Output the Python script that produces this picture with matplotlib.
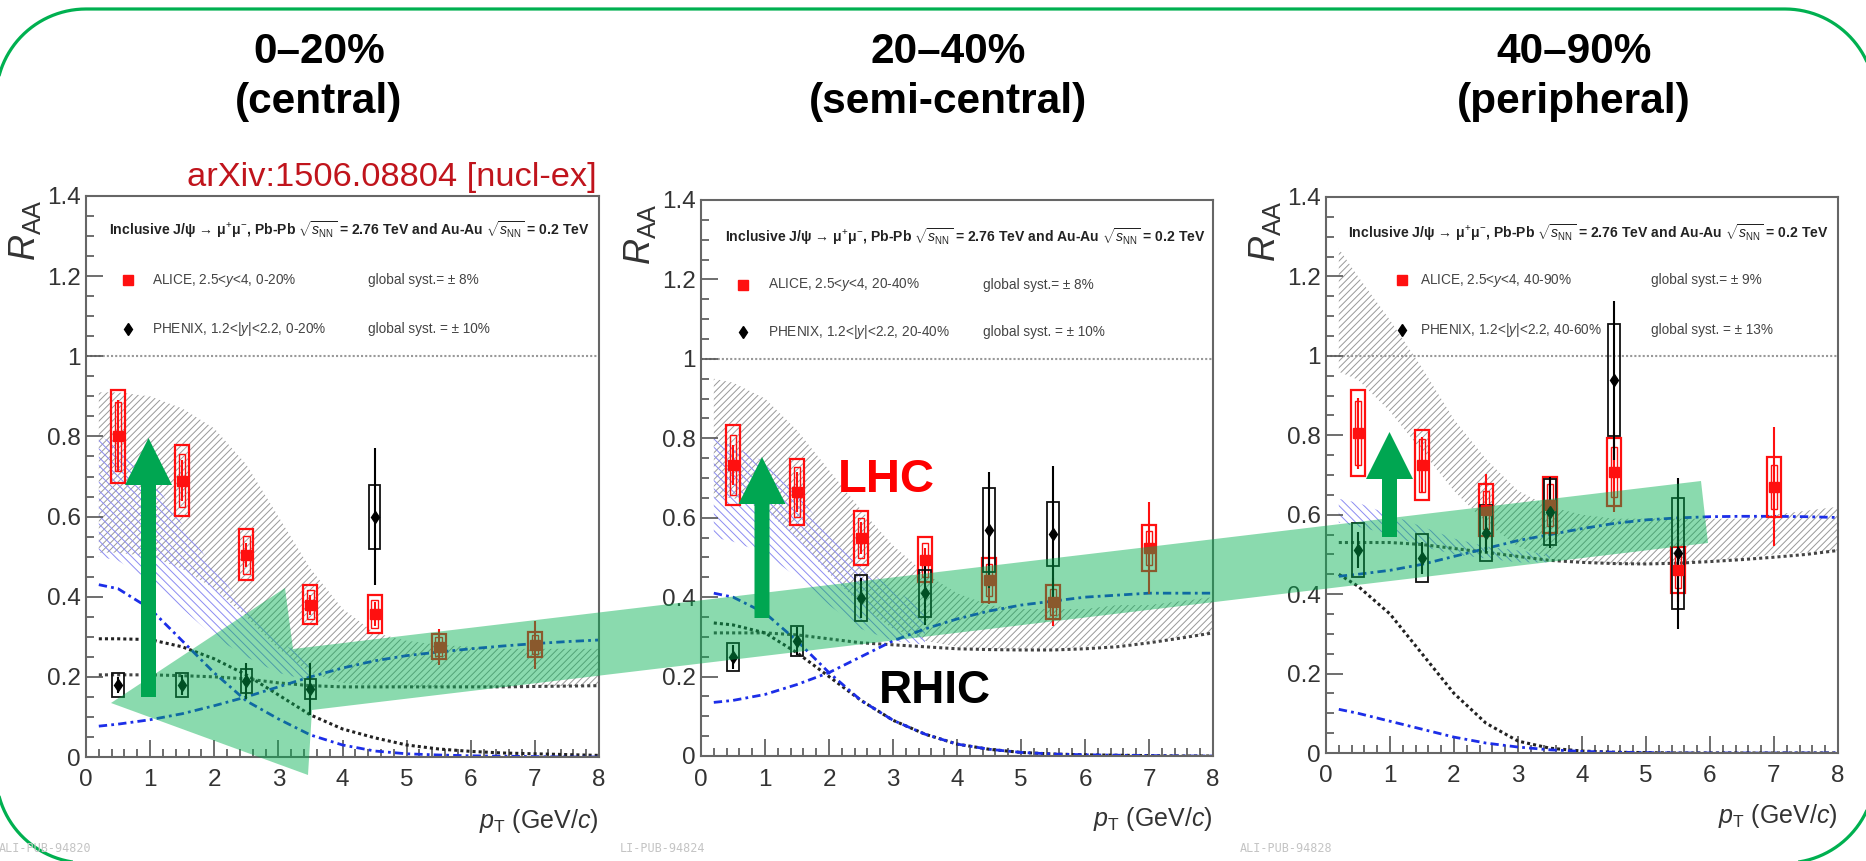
import numpy as np
import matplotlib
matplotlib.use('Agg')
import matplotlib.pyplot as plt
from matplotlib import font_manager
from matplotlib.patches import Polygon, FancyArrow
from matplotlib.ticker import MultipleLocator, FuncFormatter

W, H = 1866, 861

##############################
############ DATA ############
##############################

ALICE_PT = [0.5, 1.5, 2.5, 3.5, 4.5, 5.5, 7.0]
MODEL_PT = [0.2, 0.5, 1.0, 1.5, 2.0, 2.5, 3.0, 3.5, 4.0, 4.5, 5.0, 5.5, 6.0, 6.5, 7.0, 7.5, 8.0]
BLUE_PT = [0.2, 0.5, 1.0, 1.5, 2.0, 2.5, 3.0, 3.5]

# 0-20% (central)
alice_c = [0.80, 0.69, 0.505, 0.38, 0.357, 0.275, 0.28]
alice_c_stat = [0.09, 0.05, 0.03, 0.025, 0.03, 0.045, 0.06]
alice_c_syst = [0.115, 0.088, 0.063, 0.048, 0.047, 0.031, 0.031]
phenix_c_pt = [0.5, 1.5, 2.5, 3.5, 4.5]
phenix_c = [0.18, 0.18, 0.19, 0.17, 0.60]
phenix_c_stat = [0.02, 0.025, 0.045, 0.065, 0.17]
phenix_c_syst = [0.03, 0.03, 0.03, 0.025, 0.08]
band_c_hi = [0.91, 0.91, 0.90, 0.87, 0.82, 0.73, 0.60, 0.47, 0.37, 0.31, 0.29, 0.28, 0.275, 0.27, 0.27, 0.27, 0.27]
band_c_lo = [0.51, 0.51, 0.50, 0.47, 0.42, 0.35, 0.27, 0.21, 0.185, 0.178, 0.175, 0.175, 0.175, 0.175, 0.176, 0.177, 0.178]
blue_c_hi = [0.80, 0.78, 0.70, 0.58, 0.47, 0.37, 0.29, 0.24]
blue_c_lo = [0.50, 0.49, 0.44, 0.37, 0.30, 0.25, 0.21, 0.19]
dot_flat_c = [0.205, 0.205, 0.205, 0.203, 0.20, 0.195, 0.185, 0.178, 0.175, 0.175, 0.175, 0.175, 0.175, 0.175, 0.176, 0.177, 0.178]
dot_dec_c = [0.295, 0.295, 0.293, 0.275, 0.245, 0.205, 0.155, 0.105, 0.07, 0.048, 0.03, 0.02, 0.014, 0.01, 0.008, 0.006, 0.004]
dd_dec_c = [0.43, 0.42, 0.37, 0.29, 0.21, 0.14, 0.095, 0.055, 0.03, 0.015, 0.008, 0.005, 0.003, 0.002, 0.001, 0.0, 0.0]
dd_inc_c = [0.077, 0.082, 0.093, 0.108, 0.128, 0.15, 0.175, 0.20, 0.222, 0.24, 0.253, 0.262, 0.27, 0.277, 0.283, 0.288, 0.292]

# 20-40% (semi-central)
alice_s = [0.733, 0.665, 0.549, 0.494, 0.443, 0.388, 0.524]
alice_s_stat = [0.05, 0.05, 0.04, 0.03, 0.06, 0.06, 0.115]
alice_s_syst = [0.10, 0.083, 0.067, 0.057, 0.055, 0.043, 0.058]
phenix_s_pt = [0.5, 1.5, 2.5, 3.5, 4.5, 5.5]
phenix_s = [0.25, 0.29, 0.398, 0.41, 0.569, 0.559]
phenix_s_stat = [0.03, 0.035, 0.05, 0.08, 0.147, 0.17]
phenix_s_syst = [0.035, 0.038, 0.059, 0.059, 0.105, 0.08]
band_s_hi = [0.95, 0.94, 0.90, 0.82, 0.72, 0.62, 0.53, 0.46, 0.41, 0.38, 0.37, 0.37, 0.37, 0.38, 0.38, 0.39, 0.40]
band_s_lo = [0.65, 0.65, 0.62, 0.55, 0.46, 0.38, 0.32, 0.29, 0.275, 0.27, 0.27, 0.27, 0.275, 0.28, 0.29, 0.30, 0.31]
blue_s_hi = [0.80, 0.78, 0.74, 0.66, 0.56, 0.48, 0.42, 0.37]
blue_s_lo = [0.55, 0.54, 0.51, 0.45, 0.38, 0.32, 0.29, 0.28]
dot_flat_s = [0.31, 0.31, 0.31, 0.305, 0.295, 0.285, 0.28, 0.275, 0.27, 0.268, 0.267, 0.267, 0.27, 0.275, 0.285, 0.297, 0.31]
dot_dec_s = [0.335, 0.33, 0.31, 0.26, 0.20, 0.14, 0.09, 0.055, 0.03, 0.017, 0.009, 0.005, 0.003, 0.002, 0.001, 0.0, 0.0]
dd_dec_s = [0.41, 0.40, 0.36, 0.29, 0.21, 0.14, 0.09, 0.055, 0.03, 0.017, 0.009, 0.005, 0.003, 0.002, 0.001, 0.0, 0.0]
dd_inc_s = [0.135, 0.14, 0.155, 0.18, 0.21, 0.25, 0.29, 0.32, 0.345, 0.365, 0.38, 0.39, 0.40, 0.405, 0.41, 0.41, 0.41]

# 40-90% (peripheral)
alice_p = [0.805, 0.725, 0.612, 0.625, 0.708, 0.46, 0.67]
alice_p_stat = [0.09, 0.07, 0.09, 0.07, 0.10, 0.08, 0.15]
alice_p_syst = [0.108, 0.089, 0.065, 0.07, 0.085, 0.058, 0.075]
phenix_p_pt = [0.5, 1.5, 2.5, 3.5, 4.5, 5.5]
phenix_p = [0.511, 0.491, 0.554, 0.606, 0.939, 0.503]
phenix_p_stat = [0.045, 0.04, 0.05, 0.09, 0.20, 0.19]
phenix_p_syst = [0.068, 0.06, 0.07, 0.083, 0.14, 0.14]
band_p_hi = [1.27, 1.20, 1.09, 0.97, 0.84, 0.74, 0.66, 0.62, 0.60, 0.59, 0.59, 0.59, 0.59, 0.59, 0.60, 0.61, 0.62]
band_p_lo = [0.96, 0.94, 0.86, 0.76, 0.66, 0.58, 0.52, 0.49, 0.48, 0.475, 0.475, 0.48, 0.485, 0.49, 0.50, 0.505, 0.51]
blue_p_hi = [0.64, 0.63, 0.60, 0.57, 0.54, 0.52, 0.51, 0.50]
blue_p_lo = [0.58, 0.57, 0.55, 0.52, 0.50, 0.49, 0.48, 0.48]
dot_flat_p = [0.53, 0.53, 0.53, 0.525, 0.515, 0.505, 0.495, 0.485, 0.48, 0.477, 0.476, 0.478, 0.482, 0.487, 0.493, 0.50, 0.51]
dot_dec_p = [0.45, 0.42, 0.35, 0.25, 0.15, 0.075, 0.03, 0.012, 0.005, 0.002, 0.001, 0.0, 0.0, 0.0, 0.0, 0.0, 0.0]
dd_dec_p = [0.11, 0.10, 0.08, 0.06, 0.04, 0.025, 0.015, 0.008, 0.004, 0.002, 0.001, 0.0, 0.0, 0.0, 0.0, 0.0, 0.0]
dd_inc_p = [0.445, 0.45, 0.46, 0.475, 0.495, 0.515, 0.535, 0.55, 0.565, 0.578, 0.587, 0.592, 0.595, 0.596, 0.596, 0.595, 0.593]

titles = [('0\u201320%', '(central)'), ('20\u201340%', '(semi-central)'), ('40\u201390%', '(peripheral)')]
alice_labels = ['ALICE, 2.5<$y$<4, 0-20%', 'ALICE, 2.5<$y$<4, 20-40%', 'ALICE, 2.5<$y$<4, 40-90%']
phenix_labels = ['PHENIX, 1.2<|$y$|<2.2, 0-20%', 'PHENIX, 1.2<|$y$|<2.2, 20-40%', 'PHENIX, 1.2<|$y$|<2.2, 40-60%']
alice_glob = ['global syst.= \u00b1 8%', 'global syst.= \u00b1 8%', 'global syst.= \u00b1 9%']
phenix_glob = ['global syst. = \u00b1 10%', 'global syst. = \u00b1 10%', 'global syst. = \u00b1 13%']
pub_ids = ['ALI-PUB-94820', 'LI-PUB-94824', 'ALI-PUB-94828']

##############################
########### STYLE ############
##############################

names = {f.name for f in font_manager.fontManager.ttflist}
if 'Liberation Sans Narrow' in names:
    NARROW = ['Liberation Sans Narrow', 'Liberation Sans', 'DejaVu Sans']
    NS = 1.0
else:
    NARROW = ['Liberation Sans', 'DejaVu Sans']
    NS = 0.82

plt.rcParams['font.family'] = ['Liberation Sans', 'DejaVu Sans']
plt.rcParams['mathtext.fontset'] = 'custom'
plt.rcParams['mathtext.rm'] = 'Liberation Sans'
plt.rcParams['mathtext.it'] = 'Liberation Sans:italic'
plt.rcParams['mathtext.bf'] = 'Liberation Sans:bold'
plt.rcParams['hatch.linewidth'] = 0.7

GREEN = '#00B050'
RED = '#ff1010'
GRAY_HATCH = '#999999'
BLUE_HATCH = '#8c8cf2'
DD_BLUE = '#1c2ee8'
HEADER = 'Inclusive J/\u03c8 \u2192 \u03bc$^{+}$\u03bc$^{-}$, Pb-Pb $\\sqrt{s_{\\rm NN}}$ = 2.76 TeV and Au-Au $\\sqrt{s_{\\rm NN}}$ = 0.2 TeV'

# pixel boxes of the three panels: x0, x1, ytop, ybot (y counted from the top)
PANEL_PX = [(86, 599, 196, 757), (701, 1213, 200, 756), (1326, 1838, 197, 753)]
TITLE_X = [319, 948, 1574]
LEGEND_POS = [  # header x, marker x, text x, global x, header y, row y's
    (0.36, 0.65, 1.03, 4.4, 1.315, 1.19, 1.068),
    (0.375, 0.66, 1.05, 4.4, 1.307, 1.186, 1.068),
    (0.34, 1.19, 1.47, 5.08, 1.31, 1.19, 1.065),
]
PUB_X = [-1, 620, 1240]


def px_rect(x0, x1, ytop, ybot):
    return [x0 / W, 1 - ybot / H, (x1 - x0) / W, (ybot - ytop) / H]


# y from top of picture -> overlay coords
def fy(y):
    return H - y


# rounded rectangle outline (circular corners), y from top
def rounded_frame(l, t, r, b, rad, n=30):
    pts = []
    corners = [(l + rad, t + rad, 180, 270), (r - rad, t + rad, 270, 360),
               (r - rad, b - rad, 0, 90), (l + rad, b - rad, 90, 180)]
    for cx, cy, a0, a1 in corners:
        th = np.radians(np.linspace(a0, a1, n))
        for c, s in zip(np.cos(th), np.sin(th)):
            pts.append((cx + rad * c, fy(cy + rad * s)))
    return pts


def draw_panel(ax, p, k):
    ax.set_xlim(0, 8)
    ax.set_ylim(0, 1.4)

    # models
    ax.fill_between(MODEL_PT, p['band_lo'], p['band_hi'], facecolor='none',
                    edgecolor=GRAY_HATCH, hatch='/////', linewidth=0, zorder=1)
    ax.fill_between(BLUE_PT, p['blue_lo'], p['blue_hi'], facecolor='none',
                    edgecolor=BLUE_HATCH, hatch='\\\\\\\\', linewidth=0, zorder=1)
    ax.plot(MODEL_PT, p['dot_flat'], color='#444444', ls=(0, (1, 1)), lw=2.2, zorder=2)
    ax.plot(MODEL_PT, p['dot_dec'], color='#222222', ls=(0, (1, 1)), lw=2.2, zorder=2)
    ax.plot(MODEL_PT, p['dd_dec'], color=DD_BLUE, ls=(0, (3, 1.5, 1, 1.5)), lw=2, zorder=2)
    ax.plot(MODEL_PT, p['dd_inc'], color=DD_BLUE, ls=(0, (3, 1.5, 1, 1.5)), lw=2, zorder=2)
    ax.axhline(1.0, color='#999999', ls=(0, (1, 1)), lw=1.5, zorder=1)

    # ALICE
    a = np.array(p['alice'])
    asy = np.array(p['alice_syst'])
    ax.bar(ALICE_PT, 2 * asy, bottom=a - asy, width=0.22, fill=False,
           edgecolor=RED, linewidth=1.6, zorder=4)
    ax.bar(ALICE_PT, 1.5 * asy, bottom=a - 0.75 * asy, width=0.1, fill=False,
           edgecolor=RED, linewidth=1.0, zorder=4)
    ax.errorbar(ALICE_PT, a, yerr=p['alice_stat'], fmt='s', ms=7, color=RED,
                elinewidth=1.5, capsize=0, zorder=5)

    # PHENIX
    b = np.array(p['phenix'])
    bsy = np.array(p['phenix_syst'])
    ax.bar(p['phenix_pt'], 2 * bsy, bottom=b - bsy, width=0.18, fill=False,
           edgecolor='#111111', linewidth=1.3, zorder=4)
    ax.errorbar(p['phenix_pt'], b, yerr=p['phenix_stat'], fmt='d', ms=6, color='black',
                elinewidth=1.5, capsize=0, zorder=5)

    # legend block
    hx, mx, tx, gx, hy, r1, r2 = LEGEND_POS[k]
    ax.text(hx, hy, HEADER, family=NARROW, fontsize=12.3 * NS, fontweight='bold',
            color='#222222', va='center', ha='left')
    ax.plot([mx], [r1], 's', ms=7, color=RED)
    ax.plot([mx], [r2], 'd', ms=6, color='black')
    for y, lab, glob in [(r1, alice_labels[k], alice_glob[k]), (r2, phenix_labels[k], phenix_glob[k])]:
        ax.text(tx, y, lab, family=NARROW, fontsize=12 * NS, color='#444444', va='center', ha='left')
        ax.text(gx, y, glob, family=NARROW, fontsize=12 * NS, color='#444444', va='center', ha='left')

    # ROOT-like frame
    for s in ax.spines.values():
        s.set_color('#666666')
        s.set_linewidth(1.5)
    ax.xaxis.set_major_locator(MultipleLocator(1))
    ax.xaxis.set_minor_locator(MultipleLocator(0.2))
    ax.yaxis.set_major_locator(MultipleLocator(0.2))
    ax.yaxis.set_minor_locator(MultipleLocator(0.05))
    ax.yaxis.set_major_formatter(FuncFormatter(lambda v, pos: '%g' % round(v, 2)))
    ax.tick_params(which='both', direction='in', color='#555555', width=1.2,
                   top=False, right=False, labelsize=17.5, labelcolor='#333333')
    ax.tick_params(which='major', length=12)
    ax.tick_params(which='minor', length=6)
    ax.tick_params(axis='x', pad=9)
    ax.tick_params(axis='y', pad=4)

    ax.set_ylabel('$R_{\\rm AA}$', fontsize=26, color='#333333', loc='top')
    ax.yaxis.set_label_coords(-0.084, 0.995)
    ax.set_xlabel('$p_{\\rm T}$ (GeV/$c$)', fontsize=18, color='#333333', loc='right', va='center')
    ax.xaxis.set_label_coords(1.0, -0.114)


panels = [
    dict(alice=alice_c, alice_stat=alice_c_stat, alice_syst=alice_c_syst,
         phenix_pt=phenix_c_pt, phenix=phenix_c, phenix_stat=phenix_c_stat, phenix_syst=phenix_c_syst,
         band_lo=band_c_lo, band_hi=band_c_hi, blue_lo=blue_c_lo, blue_hi=blue_c_hi,
         dot_flat=dot_flat_c, dot_dec=dot_dec_c, dd_dec=dd_dec_c, dd_inc=dd_inc_c),
    dict(alice=alice_s, alice_stat=alice_s_stat, alice_syst=alice_s_syst,
         phenix_pt=phenix_s_pt, phenix=phenix_s, phenix_stat=phenix_s_stat, phenix_syst=phenix_s_syst,
         band_lo=band_s_lo, band_hi=band_s_hi, blue_lo=blue_s_lo, blue_hi=blue_s_hi,
         dot_flat=dot_flat_s, dot_dec=dot_dec_s, dd_dec=dd_dec_s, dd_inc=dd_inc_s),
    dict(alice=alice_p, alice_stat=alice_p_stat, alice_syst=alice_p_syst,
         phenix_pt=phenix_p_pt, phenix=phenix_p, phenix_stat=phenix_p_stat, phenix_syst=phenix_p_syst,
         band_lo=band_p_lo, band_hi=band_p_hi, blue_lo=blue_p_lo, blue_hi=blue_p_hi,
         dot_flat=dot_flat_p, dot_dec=dot_dec_p, dd_dec=dd_dec_p, dd_inc=dd_inc_p),
]

fig = plt.figure(figsize=(W / 100, H / 100), dpi=100)
fig.patch.set_facecolor('white')

for k, (p, box) in enumerate(zip(panels, PANEL_PX)):
    ax = fig.add_axes(px_rect(*box))
    draw_panel(ax, p, k)

##############################
###### SLIDE ANNOTATIONS #####
##############################
ov = fig.add_axes([0, 0, 1, 1])
ov.set_xlim(0, W)
ov.set_ylim(0, H)
ov.axis('off')
ov.set_zorder(10)

# rounded slide frame: left, top, right, bottom (pixels from top-left), corner radius
ov.add_patch(Polygon(rounded_frame(-4, 9, 1875, 863, 90), closed=True, facecolor='none',
                     edgecolor=GREEN, linewidth=2.3, clip_on=False))

for x, (l1, l2) in zip(TITLE_X, titles):
    ov.text(x, fy(63), l1, fontsize=30.5, fontweight='bold', ha='center', va='baseline')
    ov.text(x, fy(113), l2, fontsize=30.5, fontweight='bold', ha='center', va='baseline')

ov.text(597, fy(186), 'arXiv:1506.08804 [nucl-ex]', family=NARROW, fontsize=30.2 * NS,
        color='#c0141c', ha='right', va='baseline')

for x, pid in zip(PUB_X, pub_ids):
    ov.text(x, fy(849), pid, family='DejaVu Sans Mono', fontsize=8.5, color='#c4c4c4',
            ha='left', va='center')

# big translucent arrow from the LHC side back to the RHIC side
BIG_ARROW = [(111, 703), (285, 588), (293, 649), (1701, 481), (1708, 543), (312, 710), (308, 775)]
ov.add_patch(Polygon([(x, fy(y)) for x, y in BIG_ARROW], closed=True,
                     facecolor=GREEN, alpha=0.46, edgecolor='none'))

# solid vertical arrows: x, y bottom, y tip
UP_ARROWS = [(148.5, 697, 438), (762, 618, 457), (1389.5, 537, 432)]
for x, yb, yt in UP_ARROWS:
    ov.add_patch(FancyArrow(x, fy(yb), 0, yb - yt, width=15, head_width=47, head_length=47,
                            length_includes_head=True, color='#00A651', linewidth=0))

ov.text(886, fy(492), 'LHC', fontsize=34, fontweight='bold', color='#ff0000', ha='center', va='baseline')
ov.text(935, fy(703), 'RHIC', fontsize=33, fontweight='bold', color='black', ha='center', va='baseline')

fig.savefig('out.png', dpi=100)
